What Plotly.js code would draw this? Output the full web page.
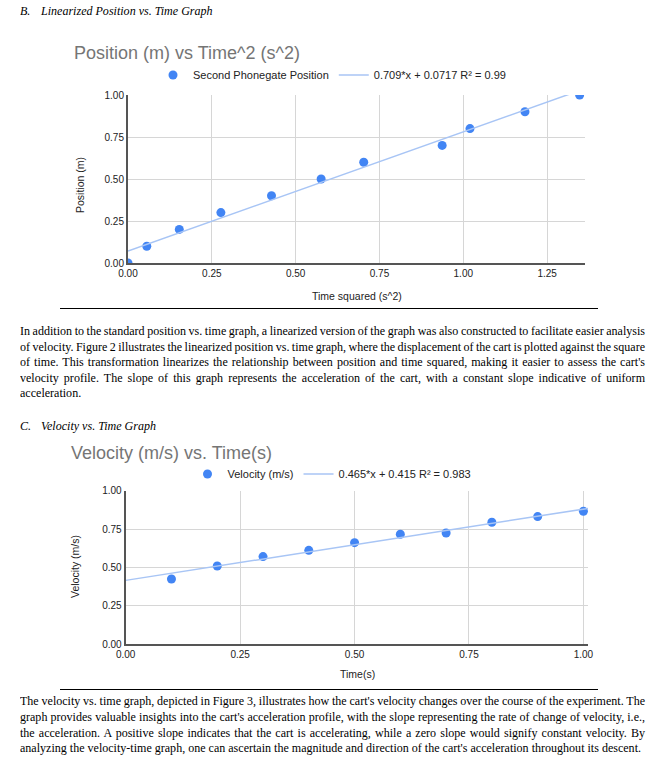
<!DOCTYPE html>
<html><head><meta charset="utf-8">
<script src="https://cdn.plot.ly/plotly-3.0.1.min.js"></script>
<style>
html,body{margin:0;padding:0;background:#fff;width:664px;height:760px;overflow:hidden;}
#page{position:relative;width:664px;height:760px;}
#chart{position:absolute;left:0;top:0;width:664px;height:760px;z-index:2;}
.ln{position:absolute;white-space:pre;font-family:"Liberation Serif","Times New Roman",serif;font-size:13px;line-height:15px;color:#000;transform-origin:0 50%;z-index:1;}
.it{font-style:italic;}
.rule{position:absolute;height:1px;background:#000;z-index:1;}
</style></head>
<body><div id="page"><div id="chart"></div></div>
<script>
// ---- Chart 1 data: Position vs Time^2 ----
const posTimeSquared = [0, 0.056, 0.153, 0.277, 0.428, 0.576, 0.703, 0.937, 1.020, 1.184, 1.347];
const posMeters      = [0, 0.10, 0.20, 0.30, 0.40, 0.50, 0.60, 0.70, 0.80, 0.90, 1.00];
const posFitCoef     = [0.709, 0.0717];   // slope, intercept
const posLegend      = ["Second Phonegate Position", "0.709*x + 0.0717 R² = 0.99"];
// ---- Chart 2 data: Velocity vs Time ----
const velTime   = [0.1, 0.2, 0.3, 0.4, 0.5, 0.6, 0.7, 0.8, 0.9, 1.0];
const velValues = [0.424, 0.509, 0.570, 0.611, 0.661, 0.716, 0.724, 0.794, 0.831, 0.866];
const velFitCoef = [0.465, 0.415];
const velLegend  = ["Velocity (m/s)", "0.465*x + 0.415 R² = 0.983"];
const tickVals1 = [0, 0.25, 0.5, 0.75, 1.0, 1.25];
const tickVals2 = [0, 0.25, 0.5, 0.75, 1.0];
const yTickVals = [0, 0.25, 0.5, 0.75, 1.0];

const W = 664, H = 760;
const px = v => v / W, py = v => 1 - v / H;
const x1Range = [0, 1.363], x2Range = [0, 1.01];

const blue = '#4285F4', trend = '#A8C5F5';
const fitLine = (coef, rng) => ({x: rng.slice(), y: rng.map(v => coef[0] * v + coef[1])});
const f1 = fitLine(posFitCoef, x1Range), f2 = fitLine(velFitCoef, x2Range);

const traces = [
  {type:'scatter', mode:'markers', x: posTimeSquared, y: posMeters, xaxis:'x', yaxis:'y',
   name: posLegend[0], marker:{color:blue, size:9}, legend:'legend'},
  {type:'scatter', mode:'lines', x: f1.x, y: f1.y, xaxis:'x', yaxis:'y',
   name: posLegend[1], line:{color:trend, width:1.5}, legend:'legend'},
  {type:'scatter', mode:'markers', x: velTime, y: velValues, xaxis:'x2', yaxis:'y2',
   name: velLegend[0], marker:{color:blue, size:9}, legend:'legend2'},
  {type:'scatter', mode:'lines', x: f2.x, y: f2.y, xaxis:'x2', yaxis:'y2',
   name: velLegend[1], line:{color:trend, width:1.5}, legend:'legend2'}
];

const FAM = 'Liberation Sans, Arial, sans-serif';
const tickFont = {family:FAM, size:10, color:'#222'};
const axBase = {showgrid:true, gridcolor:'#d6d6d6', gridwidth:1, zeroline:false, showline:true,
  linecolor:'#555', linewidth:2, ticks:'', tickformat:'.2f', tickfont:tickFont, fixedrange:true};

const ann = (text, x, y, opts) => Object.assign({text, xref:'paper', yref:'paper', x:px(x), y:py(y),
  showarrow:false, xanchor:'center', yanchor:'middle',
  font:{family:FAM, size:10.5, color:'#222'}}, opts || {});
const titleFont = {family:FAM, size:18, color:'#757575'};
const legFont = {family:FAM, size:11, color:'#222'};

const layout = {
  width: W, height: H, margin:{l:0, r:0, t:0, b:0},
  paper_bgcolor:'rgba(0,0,0,0)', plot_bgcolor:'rgba(0,0,0,0)',
  font:{family:FAM},
  xaxis: Object.assign({}, axBase, {domain:[px(128), px(585)], range:x1Range, tickvals:tickVals1, anchor:'y'}),
  yaxis: Object.assign({}, axBase, {domain:[py(263), py(95)], range:[0,1], tickvals:yTickVals, anchor:'x'}),
  xaxis2: Object.assign({}, axBase, {domain:[px(125.7), px(588)], range:x2Range, tickvals:tickVals2, anchor:'y2'}),
  yaxis2: Object.assign({}, axBase, {domain:[py(644), py(490.7)], range:[0,1], tickvals:yTickVals, anchor:'x2'}),
  showlegend:true,
  legend: {orientation:'h', x:px(332), xanchor:'center', y:py(75), yanchor:'middle',
           font:legFont, bgcolor:'rgba(0,0,0,0)'},
  legend2: {orientation:'h', x:px(332), xanchor:'center', y:py(474), yanchor:'middle',
           font:legFont, bgcolor:'rgba(0,0,0,0)'},
  annotations: [
    ann('Position (m) vs Time^2 (s^2)', 72, 53, {xanchor:'left', font:titleFont}),
    ann('Position (m)', 80, 185, {textangle:-90}),
    ann('Time squared (s^2)', 357, 296),
    ann('Velocity (m/s) vs. Time(s)', 69, 453, {xanchor:'left', font:titleFont}),
    ann('Velocity (m/s)', 75, 567, {textangle:-90}),
    ann('Time(s)', 357, 674)
  ]
};

Plotly.newPlot('chart', traces, layout, {displayModeBar:false, staticPlot:true});

// ---- document text ----
const page = document.getElementById('page');
const para1 = [
 "In addition to the standard position vs. time graph, a linearized version of the graph was also constructed to facilitate easier analysis",
 "of velocity. Figure 2 illustrates the linearized position vs. time graph, where the displacement of the cart is plotted against the square",
 "of time. This transformation linearizes the relationship between position and time squared, making it easier to assess the cart's",
 "velocity profile. The slope of this graph represents the acceleration of the cart, with a constant slope indicative of uniform",
 "acceleration."
];
const para2 = [
 "The velocity vs. time graph, depicted in Figure 3, illustrates how the cart's velocity changes over the course of the experiment. The",
 "graph provides valuable insights into the cart's acceleration profile, with the slope representing the rate of change of velocity, i.e.,",
 "the acceleration. A positive slope indicates that the cart is accelerating, while a zero slope would signify constant velocity. By",
 "analyzing the velocity-time graph, one can ascertain the magnitude and direction of the cart's acceleration throughout its descent."
];
function mk(text, left, cy, cls) {
  const d = document.createElement('div');
  d.className = 'ln' + (cls ? ' ' + cls : '');
  d.textContent = text;
  d.style.left = left + 'px';
  d.style.top = (cy - 7.5) + 'px';
  page.appendChild(d);
  return d;
}
const probe = mk(para2[3], 20, -100);
const sx = 621 / probe.getBoundingClientRect().width;
probe.remove();
function line(text, cy, justify, left, cls) {
  const d = mk(text, left, cy, cls);
  const w = d.getBoundingClientRect().width;
  if (justify) {
    const n = (text.match(/ /g) || []).length;
    d.style.wordSpacing = ((625 / sx - w) / n) + 'px';
  }
  d.style.transform = 'scaleX(' + sx + ')';
}
function para(lines, top, step) {
  lines.forEach((t, i) => line(t, top + i * step, i < lines.length - 1, 20));
}
para(para1, 330.5, 15.5);
para(para2, 700.5, 15.8);
line('B.', 10, false, 20, 'it');
line('Linearized Position vs. Time Graph', 10, false, 41, 'it');
line('C.', 425, false, 20, 'it');
line('Velocity vs. Time Graph', 425, false, 41, 'it');
function rule(x0, x1, y) {
  const r = document.createElement('div');
  r.className = 'rule';
  r.style.left = x0 + 'px'; r.style.width = (x1 - x0) + 'px'; r.style.top = y + 'px';
  page.appendChild(r);
}
rule(60, 598, 308);
rule(60, 598, 689);
</script>
</body></html>
